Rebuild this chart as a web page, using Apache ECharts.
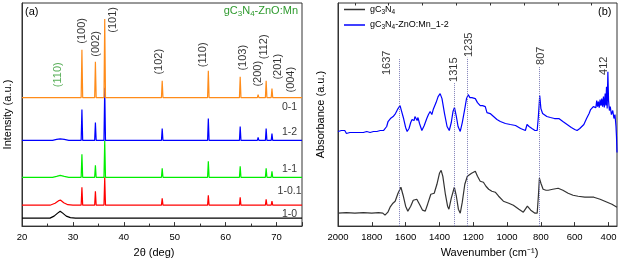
<!DOCTYPE html>
<html><head><meta charset="utf-8">
<script src="https://cdn.jsdelivr.net/npm/echarts@6/dist/echarts.min.js"></script>
<style>html,body{margin:0;padding:0;background:#fff}#c{width:620px;height:263px}</style>
</head><body><div id="c"></div>
<script>
// ---------- Panel (a): XRD ----------
const peakPos = [31.77, 34.42, 36.25, 47.54, 56.60, 62.86, 66.38, 67.96, 69.10, 72.56];
const millerText = ['(100)','(002)','(101)','(102)','(110)','(103)','(200)','(112)','(201)','(004)'];
const millerX = [31.8, 34.6, 37.9, 47.0, 55.6, 63.5, 66.3, 67.6, 70.2, 72.8];
const millerY = [196, 183, 207, 165, 172, 169, 153, 180, 160, 147];
const gcnLabel = {text: '(110)', x: 27.1, y: 152};
const thetaTicks = [20, 30, 40, 50, 60, 70];

const sampleNames = ['1-0', '1-0.1', '1-1', '1-2', '0-1'];
const sampleOffset = [8, 21, 49, 86, 129];
const sampleLabelY = [12, 35, 57, 94, 119];
const sampleColors = ['#000000', '#ff0000', '#00ee00', '#0000ff', '#ff8c1a'];
const peaks_1_0   = [0, 0, 0, 0, 0, 0, 0, 0, 0, 0];
const peaks_1_0_1 = [18, 14, 28, 7, 10, 8, 2, 6, 4, 0.5];
const peaks_1_1   = [23, 12, 37, 9, 16, 11, 2, 9, 6, 0.5];
const peaks_1_2   = [31, 18, 53, 12, 22, 14, 3, 12, 7, 1];
const peaks_0_1   = [48, 36, 79, 17, 27, 21, 3, 17, 9, 1.5];
const hump_1_0   = [[25.5,0],[26.3,2],[27.0,5],[27.5,7],[28.0,5],[28.7,2],[29.5,0.5],[30.5,0]];
const hump_1_0_1 = [[25.5,0],[26.5,2],[27.2,4.5],[27.6,5],[28.2,2.5],[29.0,0.5],[30.0,0]];
const hump_1_1   = [[26.0,0],[26.8,1],[27.5,2],[28.3,1],[29.2,0]];
const hump_1_2   = [[26.0,0],[26.8,1],[27.5,1.5],[28.3,1],[29.2,0]];
const hump_0_1   = [];
const allPeaks = [peaks_1_0, peaks_1_0_1, peaks_1_1, peaks_1_2, peaks_0_1];
const allHumps = [hump_1_0, hump_1_0_1, hump_1_1, hump_1_2, hump_0_1];

function buildXrd(i) {
  const b = sampleOffset[i];
  const pts = [[20, b]];
  allHumps[i].forEach(p => pts.push([p[0], b + p[1]]));
  allPeaks[i].forEach((h, k) => {
    if (h > 0) {
      pts.push([peakPos[k] - 0.15, b]);
      pts.push([peakPos[k], b + h]);
      pts.push([peakPos[k] + 0.15, b]);
    }
  });
  pts.push([75, b]);
  return pts;
}

// ---------- Panel (b): FTIR ----------
const ftir_gcn = [[2000,13],[1950,13.5],[1900,13],[1850,13.5],[1800,13],[1760,13.5],[1735,13],[1722,11],[1716,10],[1705,14],[1692,19],[1675,23],[1662,25],[1645,33],[1628,39],[1615,31],[1600,20],[1587,15],[1570,20],[1555,26],[1534,27],[1515,21],[1500,16],[1484,15],[1470,22],[1451,32],[1431,33],[1415,42],[1400,53],[1390,56],[1380,50],[1365,32],[1352,20],[1344,17],[1330,28],[1312,39],[1300,30],[1288,17],[1277,13],[1265,24],[1250,42],[1235,50],[1228,52],[1210,53],[1188,55],[1175,50],[1159,45],[1140,44],[1125,40],[1109,37],[1090,35],[1070,34],[1050,30],[1022,25],[990,23],[963,21],[930,17],[904,14],[880,20],[860,16],[835,13],[822,13],[815,30],[809,48],[800,43],[787,37],[770,36],[757,36],[730,37],[698,38],[670,36],[639,33],[610,31],[580,30],[540,29],[487,29],[450,27],[408,24],[380,22],[350,19]];
const ftir_comp = [[2000,95],[1990,93],[1980,96],[1970,94],[1960,96],[1950,93],[1940,95],[1930,94],[1920,96],[1910,94],[1900,95],[1890,94],[1880,96],[1870,94],[1860,95],[1850,94],[1840,96],[1830,95],[1820,96],[1810,94],[1800,96],[1790,95],[1780,96],[1770,95],[1760,96],[1750,96],[1740,97],[1730,96],[1721,97],[1712,100],[1704,105],[1690,108],[1674,110],[1660,113],[1645,118],[1633,121],[1625,116],[1612,108],[1600,99],[1591,95],[1580,98],[1570,104],[1562,107],[1550,106],[1545,110],[1537,111],[1532,106],[1527,109],[1518,103],[1504,96],[1490,101],[1475,108],[1465,112],[1455,115],[1445,112],[1437,117],[1420,124],[1408,130],[1396,133],[1385,128],[1370,113],[1355,100],[1342,96],[1330,104],[1320,115],[1311,119],[1300,110],[1290,100],[1277,95],[1265,104],[1250,118],[1240,128],[1230,132],[1220,129],[1208,129],[1200,131],[1188,128],[1175,124],[1159,121],[1145,121],[1129,120],[1119,114],[1100,113],[1080,110],[1060,107],[1040,105],[1010,103],[981,102],[950,101],[920,98],[892,96],[882,102],[870,100],[853,98],[835,96],[822,96],[815,110],[807,131],[800,118],[790,113],[784,112],[765,110],[744,109],[720,108],[694,108],[670,105],[645,102],[620,99],[600,97],[586,96],[570,98],[546,102],[530,108],[515,113],[506,117],[490,120],[480,122],[475,119],[470,126],[465,120],[460,125],[455,119],[450,127],[445,121],[440,128],[435,120],[430,130],[425,119],[420,133],[416,121],[412,140],[408,118],[404,155],[400,126],[395,116],[390,120],[383,112],[375,116],[368,108],[362,112],[356,100],[353,90],[350,74]];
const bandPos = [1637, 1315, 1235, 807];
const bandLineTop = [168, 144, 169, 160];
const bandLabels = ['1637', '1315', '1235', '807', '412'];
const bandLabelX = [1710, 1316, 1224, 800, 430];
const bandLabelY = [164, 157, 182, 171, 161];
const wnTicks = [400, 600, 800, 1000, 1200, 1400, 1600, 1800, 2000];
const wnMinorTicks = [500, 700, 900, 1100, 1300, 1500, 1700, 1900];

const FONT = 'Liberation Sans, Arial, sans-serif';
const GREEN = '#2e9a2e';
const chart = echarts.init(document.getElementById('c'), null, {renderer: 'canvas'});

const series = [];
sampleNames.forEach((n, i) => {
  series.push({
    type: 'line', name: n, xAxisIndex: 0, yAxisIndex: 0, data: buildXrd(i),
    symbol: 'none', lineStyle: {color: sampleColors[i], width: 1.2}, itemStyle: {color: sampleColors[i]},
    z: 3 + i
  });
});
series.push({
  type: 'scatter', xAxisIndex: 0, yAxisIndex: 0, symbolSize: 1, itemStyle: {color: 'rgba(0,0,0,0)'},
  data: sampleNames.map((n, i) => ({value: [72.56, sampleLabelY[i]], name: n})),
  label: {show: true, position: 'inside', formatter: p => p.name, color: '#000', fontSize: 10.5, fontFamily: FONT},
  silent: true, z: 10
});
series.push({
  type: 'scatter', xAxisIndex: 0, yAxisIndex: 0, symbolSize: 1, itemStyle: {color: 'rgba(0,0,0,0)'},
  data: millerText.map((t, i) => ({value: [millerX[i], millerY[i]], name: t}))
    .concat([{value: [gcnLabel.x, gcnLabel.y], name: gcnLabel.text, label: {color: GREEN}}]),
  label: {show: true, position: 'inside', rotate: 90, formatter: p => p.name, color: '#000', fontSize: 11, fontFamily: FONT},
  silent: true, z: 10
});
series.push({
  type: 'line', name: 'gC3N4', xAxisIndex: 1, yAxisIndex: 1, data: ftir_gcn, symbol: 'none',
  lineStyle: {color: '#333333', width: 1.2}, itemStyle: {color: '#333333'},
  markLine: {
    silent: true, symbol: 'none', label: {show: false},
    lineStyle: {type: 'dotted', color: '#7f7fb8', width: 1},
    data: bandPos.map((b, i) => [{coord: [b, 0]}, {coord: [b, bandLineTop[i]]}])
  }
});
series.push({
  type: 'line', name: 'gC3N4-ZnO:Mn_1-2', xAxisIndex: 1, yAxisIndex: 1, data: ftir_comp, symbol: 'none',
  lineStyle: {color: '#0000ff', width: 1.2}, itemStyle: {color: '#0000ff'}
});
series.push({
  type: 'scatter', xAxisIndex: 1, yAxisIndex: 1, symbolSize: 1, itemStyle: {color: 'rgba(0,0,0,0)'},
  data: bandLabels.map((t, i) => ({value: [bandLabelX[i], bandLabelY[i]], name: t})),
  label: {show: true, position: 'inside', rotate: 90, formatter: p => p.name, color: '#000', fontSize: 11, fontFamily: FONT},
  silent: true, z: 10
});

const axisCommon = {
  axisLine: {show: true, lineStyle: {color: '#333', width: 1}},
  splitLine: {show: false},
  nameTextStyle: {color: '#000', fontSize: 11, fontFamily: FONT}
};
const plain = v => String(v);

const option = {
  animation: false,
  textStyle: {fontFamily: FONT},
  grid: [
    {left: 22, top: 3, width: 280, height: 224, show: true, borderColor: '#333', borderWidth: 1},
    {left: 338, top: 3, width: 279, height: 224, show: true, borderColor: '#333', borderWidth: 1}
  ],
  xAxis: [
    Object.assign({}, axisCommon, {
      type: 'value', gridIndex: 0, min: 20, max: 75, interval: 10,
      axisTick: {inside: true, length: 4, lineStyle: {color: '#333'}},
      minorTick: {show: true, splitNumber: 2, length: 2.5, lineStyle: {color: '#333'}},
      axisLabel: {color: '#000', fontSize: 9.5, margin: 6, customValues: thetaTicks, formatter: plain},
      name: '2θ (deg)', nameLocation: 'middle', nameGap: 20,
      nameTextStyle: {color: '#000', fontSize: 11, fontFamily: FONT, padding: [0, 16, 0, 0]}
    }),
    Object.assign({}, axisCommon, {
      type: 'value', gridIndex: 1, min: 350, max: 2000, inverse: true,
      axisTick: {inside: true, length: 4, customValues: wnTicks, lineStyle: {color: '#333'}},
      axisLabel: {color: '#000', fontSize: 9.5, margin: 6, customValues: wnTicks, formatter: plain},
      name: 'Wavenumber (cm⁻¹)', nameLocation: 'middle', nameGap: 20,
      nameTextStyle: {color: '#000', fontSize: 11, fontFamily: FONT, padding: [0, 0, 0, 24]}
    }),
    {
      type: 'value', gridIndex: 1, min: 350, max: 2000, inverse: true,
      axisLine: {show: false}, splitLine: {show: false},
      axisTick: {inside: true, length: 2.5, customValues: wnMinorTicks, lineStyle: {color: '#333'}},
      axisLabel: {show: false}
    }
  ],
  yAxis: [
    Object.assign({}, axisCommon, {
      type: 'value', gridIndex: 0, min: 0, max: 224, axisTick: {show: false}, axisLabel: {show: false},
      name: 'Intensity (a.u.)', nameLocation: 'middle', nameGap: 9
    }),
    Object.assign({}, axisCommon, {
      type: 'value', gridIndex: 1, min: 0, max: 224, axisTick: {show: false}, axisLabel: {show: false},
      name: 'Absorbance (a.u.)', nameLocation: 'middle', nameGap: 12
    })
  ],
  legend: {
    data: ['gC3N4', 'gC3N4-ZnO:Mn_1-2'], orient: 'vertical', left: 339, top: 0,
    itemWidth: 21, itemHeight: 1.5, icon: 'rect', itemGap: 5,
    formatter: n => n === 'gC3N4' ? '{a|gC}{s|3}{a|N}{s|4}' : '{a|gC}{s|3}{a|N}{s|4}{a|-ZnO:Mn_1-2}',
    textStyle: {
      fontFamily: FONT, color: '#000',
      rich: {a: {fontSize: 9, lineHeight: 12, fontFamily: FONT}, s: {fontSize: 6.5, verticalAlign: 'bottom', fontFamily: FONT}}
    }
  },
  graphic: [
    {type: 'text', left: 25, top: 6, style: {text: '(a)', fontSize: 11, fill: '#000', fontFamily: FONT}},
    {type: 'text', left: 598, top: 6, style: {text: '(b)', fontSize: 11, fill: '#000', fontFamily: FONT}},
    {type: 'text', right: 322, top: 5, style: {
      text: '{a|gC}{s|3}{a|N}{s|4}{a|-ZnO:Mn}', fill: GREEN, fontFamily: FONT,
      rich: {a: {fontSize: 11, lineHeight: 14, fill: GREEN, fontFamily: FONT}, s: {fontSize: 8, verticalAlign: 'bottom', fill: GREEN, fontFamily: FONT}}
    }}
  ],
  series: series
};
chart.setOption(option);
</script></body></html>
